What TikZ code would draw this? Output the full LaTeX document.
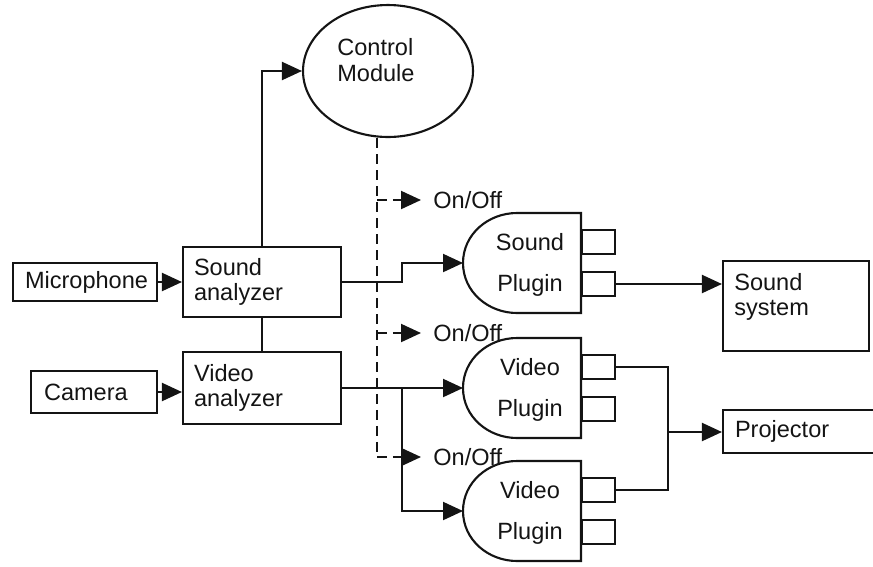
\documentclass[tikz,border=0pt]{standalone}
\usepackage{fontspec}
\setmainfont{Liberation Sans}
\usetikzlibrary{arrows.meta,positioning,shapes.geometric}
\definecolor{sysInk}{HTML}{141414}
\tikzset{
  sys diagram/.style={font=\fontsize{13.4}{14.5}\selectfont, text=sysInk},
  sys line/.style={draw=sysInk, line width=1.2pt},
  sys box/.style={sys line, rectangle, align=left, inner ysep=0pt},
  sys text/.style={align=left, inner sep=0pt},
  sys plugin text/.style={align=center, inner sep=0pt,
    font=\fontsize{13.4}{23.3}\selectfont},
  sys port/.style={sys line, minimum width=0.66cm, minimum height=0.48cm,
    inner sep=0pt},
  sys arrow/.style={sys line, -{Triangle[length=0.4cm,width=0.36cm]}},
  sys dashed/.style={sys line, dash pattern=on 0.2cm off 0.12cm},
  sys control/.style={sys dashed, -{Triangle[length=0.4cm,width=0.36cm]}},
  sys onoff/.style={anchor=west, inner xsep=0.24cm, inner ysep=0pt}
}

\begin{document}
\begin{tikzpicture}[sys diagram,x=0.02cm,y=0.02cm]
\useasboundingbox (0,0) rectangle (873,-566);
% sources and analyzers
\node[sys box, text width=2.4cm, inner xsep=0.24cm, minimum height=0.76cm] (mic) at (85,-282) {Microphone};
\node[sys box, text width=2cm, inner xsep=0.26cm, minimum height=0.84cm] (cam) at (94,-392) {Camera};
\node[sys box, text width=2.72cm, inner xsep=0.22cm, minimum height=1.4cm] (sa) at (262,-282) {Sound\\analyzer};
\node[sys box, text width=2.72cm, inner xsep=0.22cm, minimum height=1.44cm] (va) at (262,-388) {Video\\analyzer};
% control module
\node[sys line, ellipse, minimum width=3.4cm, minimum height=2.64cm, inner sep=0pt] (ctrl) at (388,-71) {};
\node[sys text, anchor=west] (ctrltext) at (337,-60) {Control\\Module};
% plugins
\foreach \name/\y/\kind in {sp/263/Sound,vp1/388/Video,vp2/511/Video}{
  \begin{scope}[shift={(0,-\y)}]
    \draw[sys line] (517,50) -- (581,50) -- (581,-50) -- (517,-50)
      to[out=180,in=-90] (463,0) to[out=90,in=180] (517,50);
    \coordinate (\name-in) at (463,0);
    \node[sys plugin text] (\name) at (530,-2) {\kind\\Plugin};
    \node[sys port, anchor=west] (\name-a) at (581,21) {};
    \node[sys port, anchor=west] (\name-b) at (581,-21) {};
  \end{scope}
}
% outputs
\node[sys box, minimum width=2.92cm, minimum height=1.8cm] (snd) at (796,-306) {};
\node[sys text, anchor=north west] (sndtext) at ([shift={(12,-13)}]snd.north west) {Sound\\system};
\node[sys box, text width=2.58cm, inner xsep=0.24cm, minimum height=0.86cm] (proj) at (799.5,-431.5) {Projector};
% signal flow
\coordinate (jog) at (402,0);
\draw[sys arrow] (mic.east) -- (mic.east -| sa.west);
\draw[sys arrow] (cam.east) -- (cam.east -| va.west);
\draw[sys arrow] (sa.north) |- (ctrl.west);
\draw[sys line] (sa.south) -- (va.north);
\draw[sys arrow] (sa.east) -- (sa.east -| jog) |- (sp-in);
\draw[sys arrow] (va.east) -- (vp1-in);
\draw[sys arrow] (va.east -| jog) |- (vp2-in);
\draw[sys arrow] (sp-b.east) -- (sp-b.east -| snd.west);
\coordinate (merge) at (668,-432);
\draw[sys line] (vp1-a.east) -| (merge) |- (vp2-a.east);
\draw[sys arrow] (merge) -- (merge -| proj.west);
% on/off control
\coordinate (tap) at (377,-457);
\draw[sys dashed] (ctrl.south -| tap) -- (tap);
\foreach \k/\y in {1/200,2/333,3/457}{
  \node[sys onoff] (onoff\k) at (421,-\y) {On/Off};
  \draw[sys control] (onoff\k.west -| tap) -- (onoff\k.west);
}
\end{tikzpicture}
\end{document}
